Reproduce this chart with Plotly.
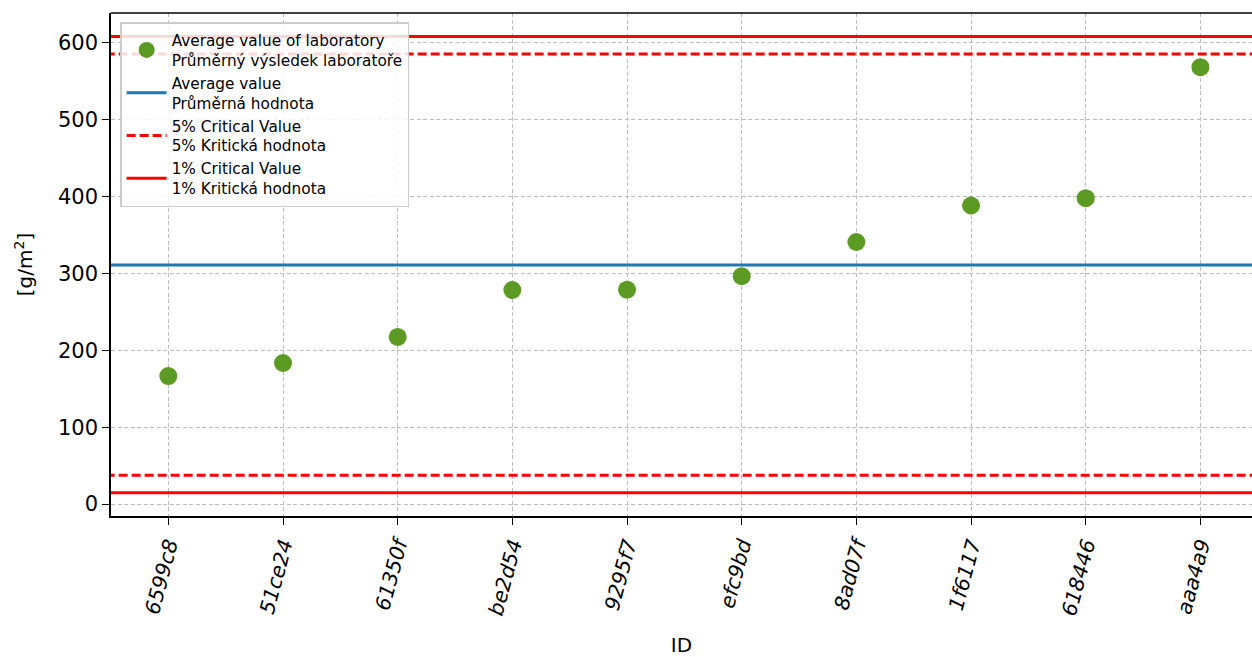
import plotly.graph_objects as go

ids = ["6599c8", "51ce24", "61350f", "be2d54", "9295f7", "efc9bd", "8ad07f", "1f6117", "618446", "aaa4a9"]
lab_means = [166.5, 183.5, 217.5, 278.5, 279.0, 296.5, 341.0, 388.5, 398.0, 568.5]
avg_value = 311.0
crit5_low, crit5_high = 37.5, 585.5
crit1_low, crit1_high = 14.5, 608.5

x_idx = list(range(len(ids)))
x_span = [-1, len(ids) + 1]

FONT = "DejaVu Sans, Verdana, sans-serif"

fig = go.Figure()
fig.add_trace(go.Scatter(
    x=x_idx, y=lab_means, mode="markers",
    marker=dict(color="#5b9a23", size=18),
    name="Average value of laboratory<br>Průměrný výsledek laboratoře"))
fig.add_trace(go.Scatter(
    x=x_span, y=[avg_value, avg_value], mode="lines",
    line=dict(color="#1f77b4", width=3),
    name="Average value<br>Průměrná hodnota"))
fig.add_trace(go.Scatter(
    x=x_span, y=[crit5_high, crit5_high], mode="lines",
    line=dict(color="#ff0000", width=3, dash="9px,4px"),
    name="5% Critical Value<br>5% Kritická hodnota"))
fig.add_trace(go.Scatter(
    x=x_span, y=[crit5_low, crit5_low], mode="lines",
    line=dict(color="#ff0000", width=3, dash="9px,4px"),
    showlegend=False))
fig.add_trace(go.Scatter(
    x=x_span, y=[crit1_high, crit1_high], mode="lines",
    line=dict(color="#ff0000", width=3),
    name="1% Critical Value<br>1% Kritická hodnota"))
fig.add_trace(go.Scatter(
    x=x_span, y=[crit1_low, crit1_low], mode="lines",
    line=dict(color="#ff0000", width=3),
    showlegend=False))

fig.update_layout(
    width=1252, height=657,
    margin=dict(l=111, r=0, t=13, b=141),
    plot_bgcolor="white", paper_bgcolor="white",
    font=dict(family=FONT, size=20, color="black"),
    legend=dict(
        x=0.008, y=0.982, xanchor="left", yanchor="top",
        bgcolor="rgba(255,255,255,0.85)", bordercolor="#cccccc", borderwidth=1.5,
        font=dict(family=FONT, size=15.3), itemwidth=40),
    xaxis=dict(
        range=[-0.5, 9.45], tickmode="array", tickvals=x_idx, ticktext=ids,
        tickangle=-75, tickfont=dict(family=FONT, size=20.5, style="italic"),
        showline=True, linecolor="black", linewidth=1.5, mirror=False,
        ticks="outside", ticklen=7, tickwidth=1.2, tickcolor="black",
        showgrid=True, gridcolor="#bdbdbd", griddash="4px,2.5px", gridwidth=1,
        zeroline=False,
        title=dict(text="ID", font=dict(family=FONT, size=20), standoff=24)),
    yaxis=dict(
        range=[-15.6, 639], tickmode="array", tickvals=[0, 100, 200, 300, 400, 500, 600],
        showline=True, linecolor="black", linewidth=1.5, mirror=False,
        ticks="outside", ticklen=7, tickwidth=1.2, tickcolor="black",
        tickfont=dict(family=FONT, size=21),
        showgrid=True, gridcolor="#bdbdbd", griddash="4px,2.5px", gridwidth=1,
        zeroline=False,
        title=dict(text="[g/m<sup>2</sup>]", font=dict(family=FONT, size=20), standoff=20)),
)
# top spine
fig.add_shape(type="line", xref="paper", yref="paper", x0=0, x1=1, y0=1, y1=1,
              line=dict(color="black", width=1.5))

fig.write_html("out.html", config={"displayModeBar": False},
               post_script="document.body.style.margin='0';document.body.style.overflow='hidden';")
